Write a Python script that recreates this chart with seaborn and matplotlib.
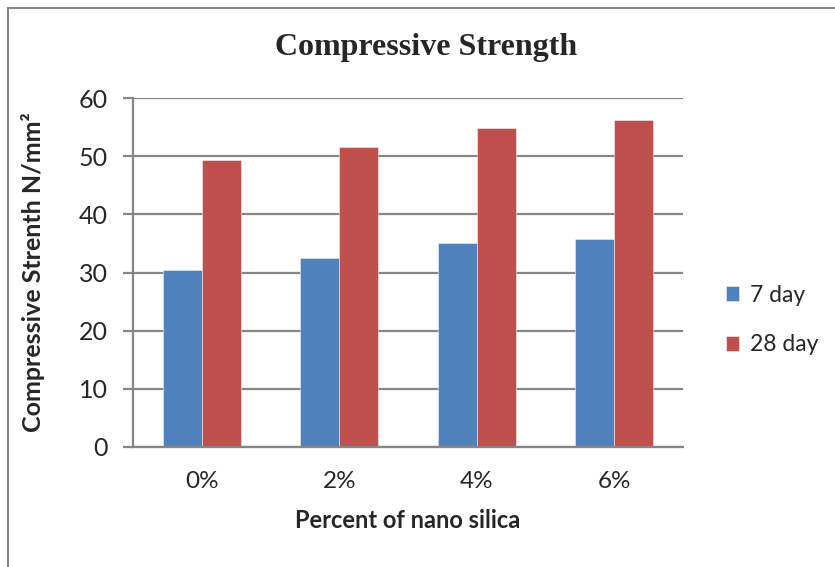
import pandas as pd
import seaborn as sns
import matplotlib.pyplot as plt
from matplotlib.patches import Rectangle

# Values
categories = ['0%', '2%', '4%', '6%']
day7 = [30.4, 32.5, 35.1, 35.7]
day28 = [49.3, 51.5, 54.8, 56.3]
series_names = ['7 day', '28 day']
yticks = [0, 10, 20, 30, 40, 50, 60]

df = pd.DataFrame({
    'percent': categories * 2,
    'strength': day7 + day28,
    'age': [series_names[0]] * len(categories) + [series_names[1]] * len(categories),
})

sns.set_style('white')
plt.rcParams['font.family'] = ['Lato', 'DejaVu Sans']

grid_col = '#868686'
fig = plt.figure(figsize=(8.35, 5.67), dpi=100)
ax = fig.add_axes([133 / 835, 1 - 447 / 567, 550 / 835, 349 / 567])

sns.barplot(data=df, x='percent', y='strength', hue='age', order=categories,
            hue_order=series_names, palette=['#4F81BD', '#C0504D'],
            width=0.57, gap=0, saturation=1, edgecolor='#f0f0f0', linewidth=0.4,
            ax=ax)

ax.set_xlim(-0.5, 3.5)
ax.set_ylim(0, 60)
ax.set_yticks(yticks)
ax.yaxis.grid(True, color=grid_col, linewidth=1.6)
ax.set_axisbelow(True)
for s in ['top', 'right']:
    ax.spines[s].set_visible(False)
for s in ['left', 'bottom']:
    ax.spines[s].set_color(grid_col)
    ax.spines[s].set_linewidth(1.6)
ax.tick_params(axis='y', length=7, width=1.6, color=grid_col, direction='out',
               labelsize=18, pad=11, left=True)
ax.tick_params(axis='x', length=0, labelsize=17.5, pad=17)

ax.set_xlabel('Percent of nano silica', fontsize=17, fontweight='bold')
ax.set_ylabel('Compressive Strenth N/mm²', fontsize=18, fontweight='bold')
ax.xaxis.set_label_coords(0.5, (447 - 521) / 349)
ax.yaxis.set_label_coords((33 - 133) / 550, 0.5)
ax.xaxis.label.set_va('center')
ax.yaxis.label.set_va('center')

fig.text(426 / 835, 1 - 47 / 567, 'Compressive Strength', ha='center', va='center',
         fontsize=23, fontweight='bold', family='Liberation Serif')

handles, labels = ax.get_legend_handles_labels()
ax.legend(handles, labels, loc='center left', bbox_to_anchor=(705 / 835, 1 - 320 / 567),
          bbox_transform=fig.transFigure, frameon=False, fontsize=16.5,
          handlelength=0.6, handleheight=0.6, handletextpad=0.45, labelspacing=1.25)

# outer chart frame (partly cut off at right and bottom)
fig.patches.append(Rectangle((8 / 835, -0.1), 1.2, 1.1 - 8 / 567,
                             transform=fig.transFigure, fill=False,
                             edgecolor=grid_col, linewidth=1.5))

fig.savefig('out.png', dpi=100)
